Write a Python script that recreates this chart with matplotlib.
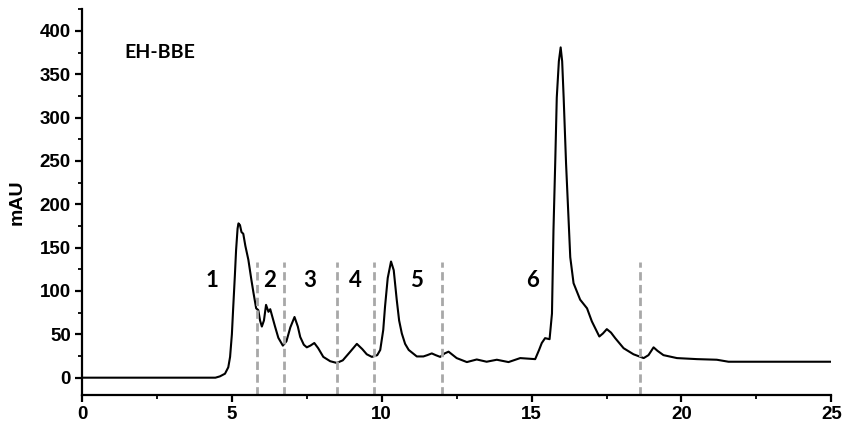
import matplotlib.pyplot as plt
from matplotlib.ticker import MultipleLocator

# chromatogram (time in min, absorbance in mAU)
tiempo = [0, 4.45, 4.6, 4.77, 4.88, 4.94, 5.0, 5.04, 5.1, 5.14, 5.19, 5.22, 5.27, 5.32,
          5.38, 5.45, 5.55, 5.65, 5.72, 5.81, 5.88, 5.94, 6.0, 6.07, 6.14, 6.22, 6.28,
          6.36, 6.44, 6.55, 6.7, 6.82, 6.95, 7.09, 7.2, 7.28, 7.4, 7.5, 7.62, 7.75, 7.88,
          8.05, 8.28, 8.5, 8.7, 8.95, 9.17, 9.35, 9.5, 9.67, 9.85, 9.95, 10.05, 10.11,
          10.2, 10.31, 10.4, 10.5, 10.58, 10.67, 10.78, 10.9, 11.17, 11.39, 11.52, 11.67,
          11.8, 11.95, 12.1, 12.23, 12.5, 12.84, 13.17, 13.5, 13.84, 14.23, 14.62, 15.12,
          15.25, 15.34, 15.45, 15.6, 15.68, 15.73, 15.79, 15.84, 15.91, 15.97, 16.02,
          16.07, 16.15, 16.25, 16.29, 16.4, 16.62, 16.85, 17.01, 17.26, 17.38, 17.51,
          17.65, 17.79, 18.07, 18.4, 18.74, 18.9, 19.07, 19.2, 19.4, 19.85, 20.52, 21.18,
          21.57, 25]
mau = [0, 0, 1.5, 4.6, 12, 24, 50, 78, 118, 147, 172, 178, 176, 168,
       166, 152, 136, 113, 98, 80, 78, 66, 59, 66, 84, 76, 79,
       69, 59, 46, 37, 42, 58, 70, 59, 47, 38, 35, 37, 40, 34,
       24, 19, 17, 20, 30, 39, 33, 27, 24, 26, 32, 55, 82,
       115, 134, 124, 90, 66, 51, 39, 32, 24.5, 24.5, 26, 28,
       26, 24, 28, 30, 22.6, 18, 21, 18.4, 20.7, 18, 22.6, 21.4,
       32, 40, 45.6, 44.4, 74, 170, 250, 323, 365, 381, 365,
       323, 247, 170, 139, 109, 90, 80, 65, 47.5, 51, 56,
       52, 45.6, 34, 27, 22.6, 26, 35, 31, 26, 22.6, 21.4, 20.7,
       18.4, 18.4]

# cortes de fracciones y etiquetas
cortes = [5.84, 6.74, 8.51, 9.75, 12.02, 18.62]
fracciones = ['1', '2', '3', '4', '5', '6']
pos_fracciones = [4.34, 6.27, 7.61, 9.11, 11.15, 15.02]

fig = plt.figure(figsize=(8.5, 4.32), dpi=100)
ax = fig.add_axes([0.0965, 0.0856, 0.8815, 0.893])

ax.plot(tiempo, mau, color='black', lw=1.5)
for c in cortes:
    ax.plot([c, c], [-20, 133], color='#a8a8a8', lw=2, ls=(0, (3, 1.6)), clip_on=False)

for f, p in zip(fracciones, pos_fracciones):
    ax.text(p, 112, f, fontsize=16, fontweight='bold', family='Lato',
            ha='center', va='center')
ax.text(1.42, 375, 'EH-BBE', fontsize=14, fontweight='bold', family='Lato',
        ha='left', va='center')

ax.set_xlim(0, 25)
ax.set_ylim(-20, 425)
ax.xaxis.set_major_locator(MultipleLocator(5))
ax.xaxis.set_minor_locator(MultipleLocator(2.5))
ax.yaxis.set_minor_locator(MultipleLocator(25))
ax.set_yticks(range(0, 401, 50))
ax.spines['top'].set_visible(False)
ax.spines['right'].set_visible(False)
ax.spines['left'].set_linewidth(1.6)
ax.spines['bottom'].set_linewidth(1.6)
ax.tick_params(which='major', direction='out', length=5, width=1.6, pad=3)
ax.tick_params(which='minor', direction='out', length=3, width=1.3)
for lab in ax.get_xticklabels() + ax.get_yticklabels():
    lab.set_family('Liberation Sans')
    lab.set_fontweight('bold')
    lab.set_fontsize(13.5)
ax.set_ylabel('mAU', fontsize=14, fontweight='bold', family='Liberation Sans', labelpad=10)

fig.savefig('out.png')
